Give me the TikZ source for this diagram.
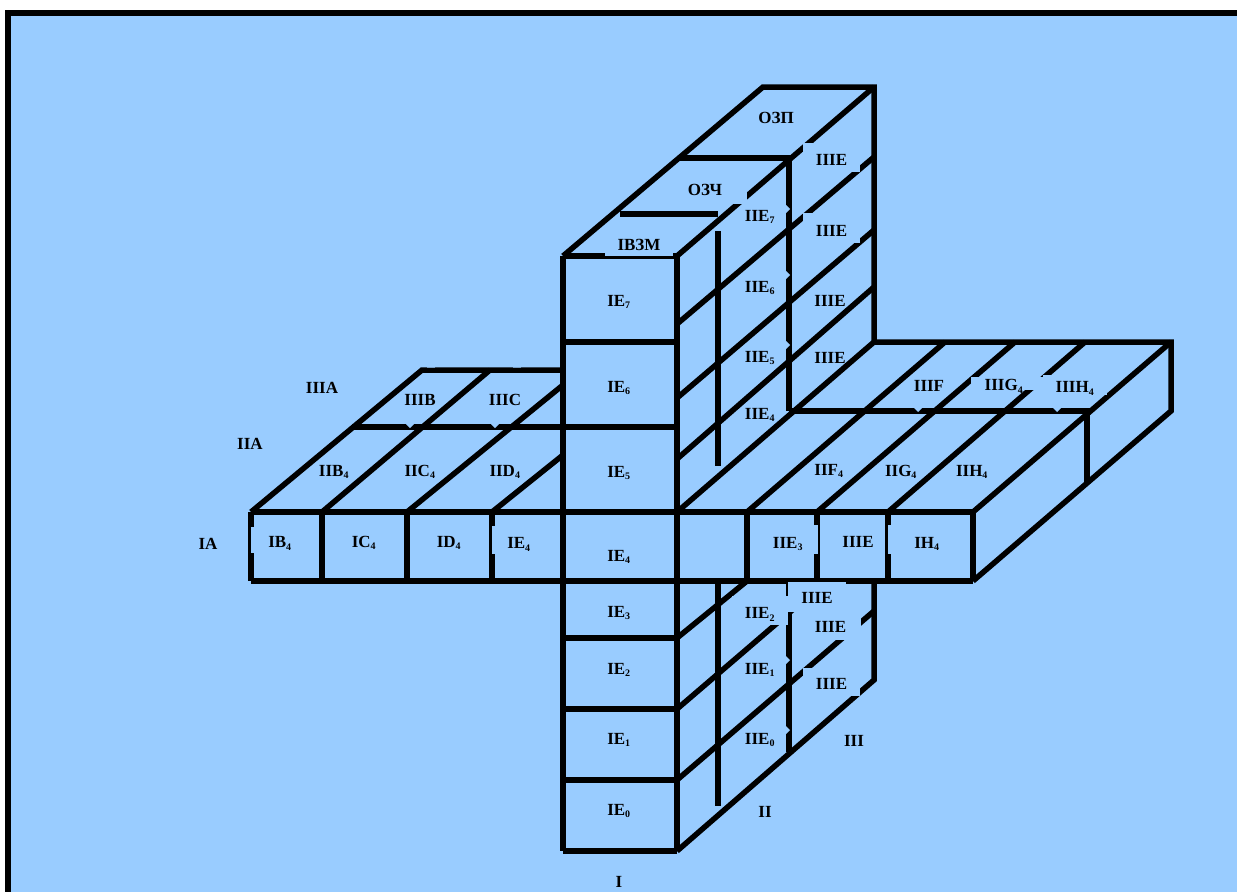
\documentclass[tikz,border=0pt]{standalone}
\usepackage{fontspec}
\setmainfont{Liberation Serif}
\usepackage{tikz}
\definecolor{ceu}{HTML}{99CCFF}
\newcommand{\ind}[1]{\textsubscript{\fontsize{10}{10}\selectfont #1}}
\newcommand{\desce}[2]{\raisebox{\dimexpr-5.5pt-#1pt\relax}[0pt][0pt]{#2}}

\begin{document}
\begin{tikzpicture}[
      x=1pt,y=-1pt,
      wall/.style={line width=5.5pt,line cap=square},
      lbl/.style={font=\fontsize{17}{18}\selectfont\bfseries,inner sep=0pt},
      lblbox/.style={lbl,fill=ceu,minimum width=#1},
      lblbox/.default=57pt,
      notch/.style={fill=ceu},
    ]
  \useasboundingbox (0,0) rectangle (1237,892);
  % fundo e moldura
  \fill[ceu] (11,16) rectangle (1237,892);
  \fill[black] (5,10) rectangle (1237,16);
  \fill[black] (5,10) rectangle (11,892);

  % coluna da frente
  \draw[wall] (563,256) -- (563,851);
  \draw[wall] (677,256) -- (677,851);
  \foreach \y in {256,342,427,638,709,780,851}
    \draw[wall] (563,\y) -- (677,\y);

  % barra horizontal
  \draw[wall] (251,512) -- (973,512);
  \draw[wall] (251,581) -- (973,581);
  \foreach \x in {251,322,407,492,747,817,888,973}
    \draw[wall] (\x,512) -- (\x,581);

  % face direita, parte de cima
  \draw[wall] (563,256) -- (763,87) -- (874,87) -- (874,342);
  \foreach \a/\b in {256/87,324/157,398/230,459/287,512/342}
    \draw[wall] (677,\a) -- (874,\b);
  \draw[wall] (678,158) -- (789,158) -- (789,411);
  \draw[wall] (620,214) -- (718,214);
  \draw[wall] (718,231) -- (718,466);

  % face direita, parte de baixo
  \draw[wall] (874,582) -- (874,680) -- (677,851);
  \draw[wall] (677,780) -- (874,611);
  \draw[wall] (677,709) -- (825,582);
  \draw[wall] (677,638) -- (747,581);
  \draw[wall] (718,584) -- (718,806);
  \draw[wall] (789,582) -- (789,752);

  % placa da direita
  \draw[wall] (874,342) -- (1171,342) -- (1171,411) -- (973,581);
  \foreach \a/\b in {747/945,817/1015,888/1085,973/1171}
    \draw[wall] (\a,512) -- (\b,342);
  \draw[wall] (789,411) -- (1087,411) -- (1087,483);

  % placa da esquerda
  \draw[wall] (251,512) -- (422,370) -- (563,370);
  \draw[wall] (352,427) -- (563,427);
  \draw[wall] (322,512) -- (490,370);
  \draw[wall] (407,512) -- (563,385);
  \draw[wall] (492,512) -- (563,455);

  % pequenos cortes nas linhas
  \foreach \x/\y in {410/427,495/427,918/411,1057/411}
    \fill[notch] (\x-4,\y-3) -- (\x+4,\y-3) -- (\x,\y+1) -- cycle;
  \foreach \x in {431,517}
    \fill[notch] (\x-4,367.5) -- (\x+4,367.5) -- (\x,363) -- cycle;
  \foreach \y in {209,275,345,660,730}
    \fill[notch] (786,\y-4) -- (786,\y+4) -- (790,\y) -- cycle;

  % rotulos com fundo, cobrem as linhas
  \node[lblbox=84pt,minimum height=29pt] (OZCH) at (705,189.5) {\desce{0}{ОЗЧ}};
  \node[lblbox=68pt,minimum height=26pt] (IVZM) at (639,243) {\desce{2}{IВЗМ}};
  \node[lblbox,minimum height=29pt] (IIIE7) at (831.5,157.5) {\desce{2}{IIIE}};
  \node[lblbox,minimum height=30pt] (IIIE6) at (831.5,228) {\desce{3}{IIIE}};
  \node[lblbox=58pt,minimum height=26pt] (IB4) at (280,540) {\desce{2}{IB\ind{4}}};
  \node[lblbox=54pt,minimum height=28pt] (IE4l) at (519,539.5) {\desce{3.5}{IE\ind{4}}};
  \node[lblbox=60pt,minimum height=29pt] (IIE3) at (788,539.5) {\desce{3}{IIE\ind{3}}};
  \node[lblbox=78pt,minimum height=29pt] (IH4) at (927,539.5) {\desce{3}{IH\ind{4}}};
  \node[lblbox=56pt,minimum height=29pt] (IIE2) at (760,610.5) {\desce{2.5}{IIE\ind{2}}};
  \node[lblbox=58pt,minimum height=30pt] (IIIE3) at (817,597) {\desce{1}{IIIE}};
  \node[lblbox=61pt,minimum height=28pt] (IIIE2) at (830.5,626) {\desce{1}{IIIE}};
  \node[lblbox,minimum height=28pt] (IIIE1) at (831.5,682) {\desce{1.5}{IIIE}};
  \node[lblbox=72pt,minimum height=13pt] (IIIG4) at (1007,383) {\desce{2}{IIIG\ind{4}\hspace*{6pt}}};
  \node[lblbox=64pt,minimum height=20pt] (IIIH4) at (1075,385) {\desce{2}{IIIH\ind{4}}};

  % rotulos simples
  \node[lbl] (OZP) at (776,118) {ОЗП};
  \node[lbl] (IE7) at (619,302) {IE\ind{7}};
  \node[lbl] (IE6) at (619,388) {IE\ind{6}};
  \node[lbl] (IE5) at (619,473) {IE\ind{5}};
  \node[lbl] (IE4) at (619,557) {IE\ind{4}};
  \node[lbl] (IE3) at (619,613) {IE\ind{3}};
  \node[lbl] (IE2) at (619,670) {IE\ind{2}};
  \node[lbl] (IE1) at (619,740) {IE\ind{1}};
  \node[lbl] (IE0) at (619,811) {IE\ind{0}};
  \node[lbl] (I) at (619,882) {I};
  \node[lbl] (II) at (765,812) {II};
  \node[lbl] (III) at (854,741) {III};
  \node[lbl] (IIE7) at (760,217) {IIE\ind{7}};
  \node[lbl] (IIE6) at (760,288) {IIE\ind{6}};
  \node[lbl] (IIE5) at (760,358) {IIE\ind{5}};
  \node[lbl] (IIE4) at (760,415) {IIE\ind{4}};
  \node[lbl] (IIE1) at (760,670) {IIE\ind{1}};
  \node[lbl] (IIE0) at (760,740) {IIE\ind{0}};
  \node[lbl] (IIIE5) at (830,301) {IIIE};
  \node[lbl] (IIIE4) at (830,358) {IIIE};
  \node[lbl] (IIIE0) at (858,542) {IIIE};
  \node[lbl] (IA) at (208,544) {IA};
  \node[lbl] (IIA) at (250,444) {IIA};
  \node[lbl] (IIIA) at (322,388) {IIIA};
  \node[lbl] (IIIB) at (420,400) {IIIB};
  \node[lbl] (IIIC) at (505,400) {IIIC};
  \node[lbl] (IIB4) at (334,472) {IIB\ind{4}};
  \node[lbl] (IIC4) at (420,472) {IIC\ind{4}};
  \node[lbl] (IID4) at (505,472) {IID\ind{4}};
  \node[lbl] (IC4) at (364,543) {IC\ind{4}};
  \node[lbl] (ID4) at (449,543) {ID\ind{4}};
  \node[lbl] (IIIF) at (929,386) {IIIF};
  \node[lbl] (IIF4) at (829,471) {IIF\ind{4}};
  \node[lbl] (IIG4) at (901,472) {IIG\ind{4}};
  \node[lbl] (IIH4) at (972,472) {IIH\ind{4}};
\end{tikzpicture}
\end{document}
